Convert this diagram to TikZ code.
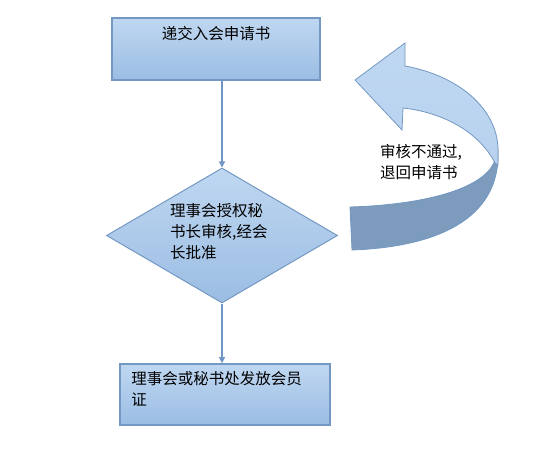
\documentclass[tikz,border=0pt]{standalone}
\usepackage{fontspec}
\newfontfamily\cjk{Noto Sans CJK SC}
\usetikzlibrary{shapes.geometric,arrows.meta}
\definecolor{boxtop}{HTML}{BFD7F1}
\definecolor{boxbot}{HTML}{9BBDE3}
\definecolor{boxline}{HTML}{7398C3}
\definecolor{conn}{HTML}{7096C4}
\definecolor{darkrib}{HTML}{7D9BBC}
\tikzset{
  box/.style={draw=boxline, line width=1.6pt, top color=boxtop, bottom color=boxbot, inner sep=0pt},
  dia/.style={diamond, draw=boxline, line width=1pt, top color=boxtop, bottom color=boxbot, inner sep=0pt},
  txt/.style={font=\cjk\fontsize{15.5}{21}\selectfont, inner sep=0pt, align=left},
  conn/.style={draw=conn, line width=1.2pt, -{Triangle[length=6pt,width=6pt]}},
}
\begin{document}
\begin{tikzpicture}[x=1pt,y=-1pt]
\useasboundingbox (0,0) rectangle (557,476);
% boxes
\node[box, minimum width=208pt, minimum height=62pt] (b1) at (216,49) {};
\node[txt, anchor=north] (t1) at ([yshift=-9pt]b1.north) {递交入会申请书};
\node[dia, minimum width=231pt, minimum height=135pt] (d) at (222,235.5) {};
\node[txt, anchor=north west] (t2) at (170,203) {理事会授权秘\\书长审核,经会\\长批准};
\node[box, minimum width=210pt, minimum height=61pt] (b2) at (225,394.5) {};
\node[txt, anchor=north west] (t3) at ([xshift=12pt,yshift=-8pt]b2.north west) {理事会或秘书处发放会员\\证};
% connectors
\draw[conn] (b1.south -| d.north) -- (d.north);
\draw[conn] (d.south) -- (d.south |- b2.north);
% curved return arrow
\coordinate (tip) at (355,80);
\path[fill=darkrib, draw=boxline, line width=0.8pt]
  (498,150) .. controls (501,220) and (435,247) .. (352,250)
  -- (350,207) .. controls (420,205) and (485,190) .. (495,160) -- cycle;
\path[draw=boxline, line width=0.8pt, top color=boxtop, bottom color=boxtop!80!boxbot]
  (tip) -- (405,43) -- (405,66)
  .. controls (460,76) and (498,110) .. (498,150)
  -- (498,165) -- (495,163)
  .. controls (478,130) and (440,112) .. (403,108)
  -- (402,130) -- cycle;
\node[txt, anchor=north west] (t4) at (380,144) {审核不通过,\\退回申请书};
\end{tikzpicture}
\end{document}
